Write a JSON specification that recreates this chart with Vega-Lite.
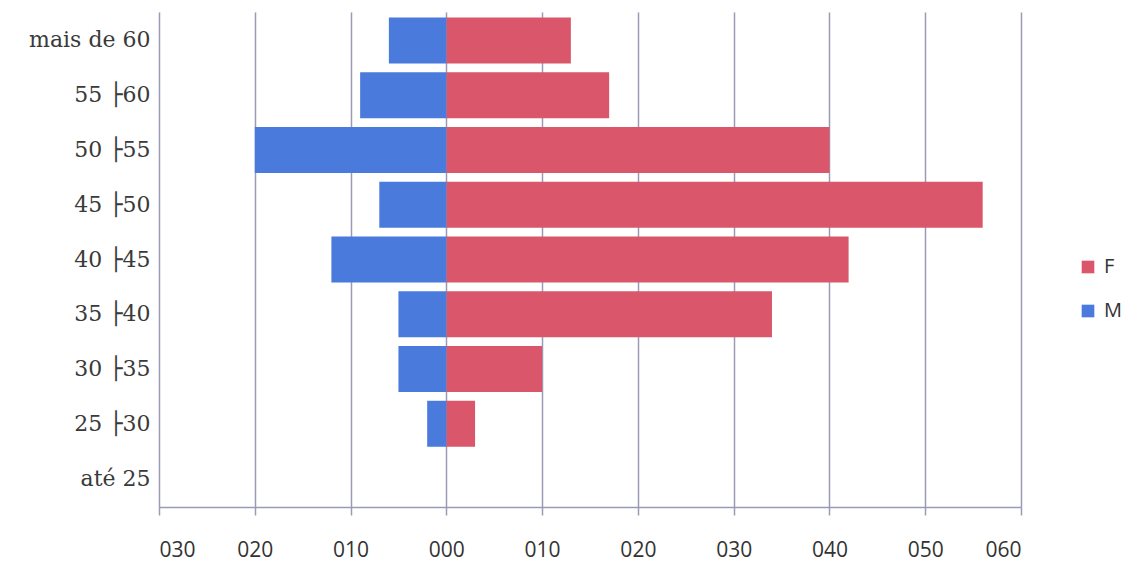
{
  "$schema": "https://vega.github.io/schema/vega-lite/v6.json",
  "autosize": {"type": "none"},
  "width": 862,
  "height": 495,
  "padding": {"left": 159, "top": 12, "right": 111, "bottom": 54},
  "background": "white",
  "data": {
    "values": [
      {"faixa": "mais de 60", "sexo": "F", "valor": 13},
      {"faixa": "mais de 60", "sexo": "M", "valor": -6},
      {"faixa": "55 ├60", "sexo": "F", "valor": 17},
      {"faixa": "55 ├60", "sexo": "M", "valor": -9},
      {"faixa": "50 ├55", "sexo": "F", "valor": 40},
      {"faixa": "50 ├55", "sexo": "M", "valor": -20},
      {"faixa": "45 ├50", "sexo": "F", "valor": 56},
      {"faixa": "45 ├50", "sexo": "M", "valor": -7},
      {"faixa": "40 ├45", "sexo": "F", "valor": 42},
      {"faixa": "40 ├45", "sexo": "M", "valor": -12},
      {"faixa": "35 ├40", "sexo": "F", "valor": 34},
      {"faixa": "35 ├40", "sexo": "M", "valor": -5},
      {"faixa": "30 ├35", "sexo": "F", "valor": 10},
      {"faixa": "30 ├35", "sexo": "M", "valor": -5},
      {"faixa": "25 ├30", "sexo": "F", "valor": 3},
      {"faixa": "25 ├30", "sexo": "M", "valor": -2},
      {"faixa": "até 25", "sexo": "F", "valor": 0},
      {"faixa": "até 25", "sexo": "M", "valor": 0}
    ]
  },
  "mark": {"type": "bar"},
  "encoding": {
    "y": {
      "field": "faixa",
      "type": "nominal",
      "sort": ["mais de 60", "55 ├60", "50 ├55", "45 ├50", "40 ├45", "35 ├40", "30 ├35", "25 ├30", "até 25"],
      "scale": {"paddingInner": 0.16, "paddingOuter": 0.1},
      "axis": {
        "title": null,
        "domain": false,
        "ticks": false,
        "labelPadding": 9,
        "labelFont": "DejaVu Serif",
        "labelFontSize": 22,
        "labelColor": "#3a3a3a"
      }
    },
    "x": {
      "field": "valor",
      "type": "quantitative",
      "stack": null,
      "scale": {"domain": [-30, 60], "nice": false, "zero": false},
      "axis": {
        "title": null,
        "values": [-30, -20, -10, 0, 10, 20, 30, 40, 50, 60],
        "labelExpr": "format(abs(datum.value), '03d')",
        "labelFont": "Open Sans",
        "labelFontSize": 21,
        "labelColor": "#333333",
        "labelPadding": 24,
        "tickSize": 8,
        "tickColor": "#9a9ab6",
        "tickWidth": 1.5,
        "domainColor": "#9a9ab6",
        "domainWidth": 1.5,
        "grid": true,
        "gridColor": "#9a9ab6",
        "gridWidth": 1.5,
        "gridOpacity": 1
      }
    },
    "color": {
      "field": "sexo",
      "type": "nominal",
      "scale": {"domain": ["F", "M"], "range": ["#d9566b", "#4a7bdc"]},
      "legend": {
        "title": null,
        "orient": "none",
        "legendX": 919,
        "legendY": 245,
        "symbolType": "square",
        "symbolSize": 160,
        "symbolStrokeWidth": 0,
        "labelFont": "Open Sans",
        "labelFontSize": 20,
        "labelColor": "#333333",
        "rowPadding": 24,
        "labelOffset": 6
      }
    }
  },
  "config": {
    "view": {"stroke": null}
  }
}
